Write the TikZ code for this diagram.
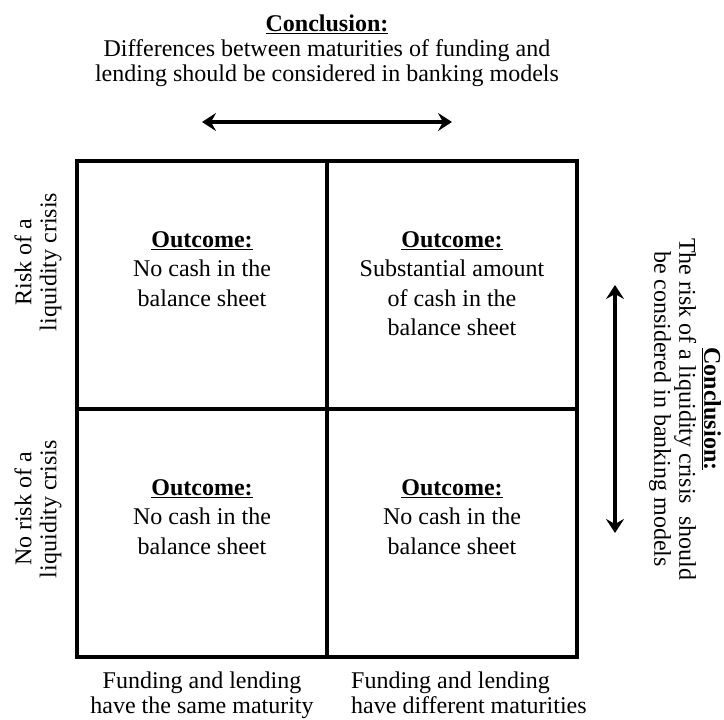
\documentclass[tikz,border=0pt]{standalone}
\usepackage{fontspec}
\setmainfont{Liberation Serif}
\usetikzlibrary{arrows.meta, positioning}
\tikzset{
  txt/.style     = {font=\fontsize{24}{25}\selectfont, align=center, inner sep=0pt},
  celltxt/.style = {txt, font=\fontsize{24}{29.5}\selectfont},
  cell/.style    = {draw, line width=3.5pt, minimum width=250pt, minimum height=248pt,
                    inner sep=0pt, outer sep=0pt},
  dblarr/.style  = {{Stealth[length=14pt, width=18pt, inset=5pt]}-{Stealth[length=14pt, width=18pt, inset=5pt]},
                    line width=3.5pt},
}
\newcommand{\hd}[1]{\underline{\textbf{#1}}}

\begin{document}
\begin{tikzpicture}[x=1pt, y=-1pt]
\useasboundingbox (0,0) rectangle (724,720);

%% ── the four cells ───────────────────────────────────────────────────────────
\node[cell] (ul) at (202,285) {};
\node[cell] (ur) at (452,285) {};
\node[cell] (ll) at (202,533) {};
\node[cell] (lr) at (452,533) {};

%% ── outcomes ─────────────────────────────────────────────────────────────────
\node[celltxt, below=70pt of ul.north] (outUL)
  {\hd{Outcome:}\\No cash in the\\balance sheet};
\node[celltxt, below=70pt of ur.north] (outUR)
  {\hd{Outcome:}\\Substantial amount\\of cash in the\\balance sheet};
\node[celltxt, below=70pt of ll.north] (outLL)
  {\hd{Outcome:}\\No cash in the\\balance sheet};
\node[celltxt, below=70pt of lr.north] (outLR)
  {\hd{Outcome:}\\No cash in the\\balance sheet};

%% ── row labels ───────────────────────────────────────────────────────────────
\node[txt, rotate=90] (rowTop) at (38,262) {Risk of a\\liquidity crisis};
\node[txt, rotate=90] (rowBot) at (38,509) {No risk of a\\liquidity crisis};

%% ── column labels ────────────────────────────────────────────────────────────
\node[txt, anchor=north] (colL) at (202,672)
  {Funding and lending\\have the same maturity};
\node[txt, align=left, anchor=north west] (colR) at (351,672)
  {Funding and lending\\have different maturities};

%% ── conclusions ──────────────────────────────────────────────────────────────
\node[txt, anchor=north] (conclTop) at (327,15)
  {\hd{Conclusion:}\\Differences between maturities of funding and\\
   lending should be considered in banking models};
\node[txt, rotate=-90] (conclRight) at (685,409)
  {\hd{Conclusion:}\\The risk of a liquidity crisis\ \ should\\
   be considered in banking models};

%% ── arrows ───────────────────────────────────────────────────────────────────
\draw[dblarr] ([yshift=39pt]ul.north) -- ([yshift=39pt]ur.north);
\draw[dblarr] ([xshift=38pt]ur.east) -- ([xshift=38pt]lr.east);

\end{tikzpicture}
\end{document}
